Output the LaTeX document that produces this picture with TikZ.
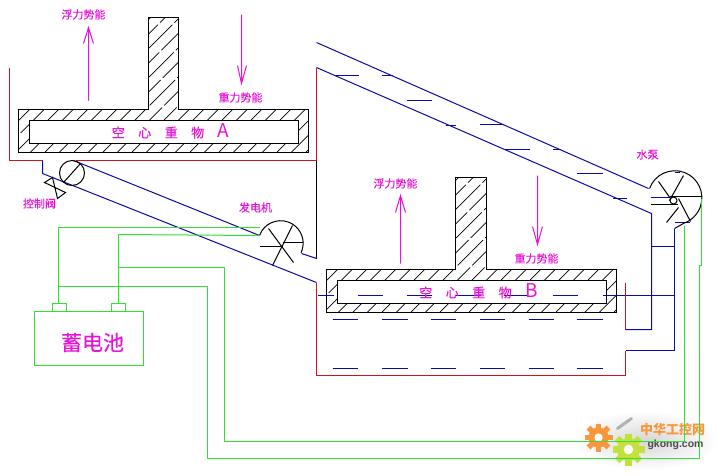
\documentclass[tikz,border=0pt]{standalone}
\usepackage{fontspec}
\newfontfamily\cjk[FakeBold=0.25]{Noto Sans CJK SC}
\newfontfamily\cjklogo{Noto Sans CJK SC}
\setsansfont{Liberation Sans}
\definecolor{pipeblue}{RGB}{10,10,170}
\definecolor{tankred}{RGB}{205,20,30}
\definecolor{wiregreen}{RGB}{50,225,50}
\definecolor{labelmag}{RGB}{230,20,215}
\definecolor{gearorange}{RGB}{250,150,60}
\definecolor{geargreen}{RGB}{195,225,60}
\tikzset{
  pipe/.style={draw=pipeblue,line width=1pt},
  tank/.style={draw=tankred,line width=1pt},
  wire/.style={draw=wiregreen,line width=1pt},
  body/.style={draw=black,line width=1pt},
  fine/.style={draw=black,line width=1pt},
  force/.style={draw=labelmag,line width=1pt},
  lab/.style={text=labelmag,font=\cjk\fontsize{11}{11}\selectfont,inner sep=0pt},
  hollow/.style={text=labelmag,font=\cjk\fontsize{13}{13}\selectfont,inner sep=0pt,anchor=base},
}
\newcommand{\hgap}{\hspace*{13.5pt}}
\newcommand{\bigletter}[1]{{\cjklogo\fontsize{19}{19}\selectfont #1}}
\newcommand{\weight}[7]{% x0 x1 y0 y1 stemL stemR top
  \begin{scope}[even odd rule]
    \clip (#1,#3) -- (#5,#3) -- (#5,#7) -- (#6,#7) -- (#6,#3) -- (#2,#3) -- (#2,#4) -- (#1,#4) -- cycle
      (#1+11,#3+11) rectangle (#2-10,#4-9);
    \foreach \k in {0,14.5,...,500}
      \draw[line width=.7pt,dash pattern=on 36pt off 3pt] (#1-40+\k,#4+8) -- (#1-40+\k+180,#4+8-180);
  \end{scope}
  \draw[body] (#1,#3) -- (#5,#3) -- (#5,#7) -- (#6,#7) -- (#6,#3) -- (#2,#3) -- (#2,#4) -- (#1,#4) -- cycle;
  \draw[body] (#1+11,#3+11) rectangle (#2-10,#4-9);
}
\newcommand{\geartooth}[4]{% x y r colour
  \fill[#4] (#1,#2) circle (#3*0.72);
  \foreach \a in {0,45,...,315}
    \fill[#4,rotate around={\a:(#1,#2)}] (#1-#3*0.2,#2-#3) rectangle (#1+#3*0.2,#2-#3*0.6);
  \fill[white] (#1,#2) circle (#3*0.3);
}
\begin{document}
\begin{tikzpicture}[x=1pt,y=-1pt,shift={(0.5,0.5)}]
\useasboundingbox (-0.5,-0.5) rectangle (718.5,474.5);
\fill[white] (-0.5,-0.5) rectangle (718.5,474.5);
% watermark logo
\shade[inner color=black!16,outer color=white] (645,440) ellipse (72 and 30);
\draw[black!30,line width=3pt,line cap=round] (617,428) -- (631,418);
\geartooth{598}{437}{14}{gearorange}
\geartooth{628}{449}{16}{geargreen}
\node[inner sep=0pt,text=gearorange,font=\cjklogo\bfseries\fontsize{13}{13}\selectfont] (logocn) at (672,429) {中华工控网};
\node[inner sep=0pt,text=black!70,font=\sffamily\bfseries\fontsize{10.5}{11}\selectfont] (logoen) at (675,444) {gkong.com};
% weights
\weight{18}{308}{109}{152}{148}{178}{17}
\weight{326}{616}{269}{312}{455}{486}{177}
% tank A
\draw[tank] (9,67) -- (9,160) -- (42,160);
\draw[tank] (75,160) -- (316,160) -- (316,67);
\draw[fine] (316,160) -- (316,258);
% tank B
\draw[tank] (316,282) -- (316,375) -- (625,375) -- (625,350);
\draw[tank] (625,282) -- (625,329);
% pipes
\draw[pipe] (42,160) -- (42,173) -- (316,282);
\draw[pipe] (73,160) -- (259,235);
\draw[pipe] (301,253) -- (316,258);
\draw[pipe] (316,42) -- (648,188);
\draw[pipe] (316,67) -- (651,213) -- (651,329) -- (625,329);
\draw[pipe] (674,228) -- (674,350) -- (625,350);
\draw[pipe] (651,246) -- (674,246);
\draw[pipe] (625,295) -- (674,295);
% water levels
\foreach \a/\b in {317/333,357/382,406/431,455/480,503/527,552/577,602/624}
  \draw[pipe] (\a,295) -- (\b,295);
\foreach \a/\b in {332/357,381/407,430/455,479/504,528/553,576/602}{
  \draw[pipe] (\a,319) -- (\b,319);
  \draw[pipe] (\a,368) -- (\b,368);
}
\foreach \a/\b/\y in {335/358/75,381/392/75,406/431/100,445/455/125,479/503/124,503/529/149,552/560/149,576/602/173,612/626/198,650/669/197,674/679/172,674/689/222}
  \draw[pipe] (\a,\y) -- (\b,\y);
% control valve
\draw[fine] (71.5,172.5) circle (12.5);
\draw[fine] (63,182) -- (80,163);
\draw[fine] (44,182) -- (52,177) -- (57,198) -- (65,192) -- cycle;
% generator
\draw[fine] (259,235) arc[start angle=-160,end angle=25,radius=22.5];
\draw[fine] (259,246) -- (282,246);
\draw[fine] (282,242) -- (302,242);
\draw[fine] (268,228) -- (293,262);
\draw[fine] (292,225) -- (272,265);
% pump
\draw[fine] (649,188) arc[start angle=-160,end angle=70,radius=27] -- (674,228);
\draw[fine] (669,196) -- (701,196);
\draw[fine] (650,204) -- (677,204);
\draw[fine] (658,181) -- (670,198);
\draw[fine] (683,175) -- (669,200);
\draw[fine] (678,198) -- (690,221);
\draw[fine] (678,207) -- (666,222);
\draw[fine] (673,200) circle (3.5);
% battery and wires
\draw[wire] (34,311) rectangle (143,365);
\draw[wire] (52,311) -- (52,303) -- (66,303) -- (66,311);
\draw[wire] (111,311) -- (111,303) -- (125,303) -- (125,311);
\draw[wire] (58,303) -- (58,227) -- (259,227);
\draw[wire] (118,303) -- (118,234) -- (259,235);
\draw[wire] (118,267) -- (224,267) -- (224,441) -- (684,441) -- (684,225);
\draw[wire] (58,286) -- (207,286) -- (207,458) -- (699,458) -- (699,265) -- (701,265) -- (701,198);
% force arrows
\draw[force] (88,100) -- (88,27) (83,43) -- (88,27) -- (93,43);
\draw[force] (241,14) -- (241,83) (237,65) -- (241,83) -- (246,65);
\draw[force] (400,263) -- (400,195) (395,212) -- (400,195) -- (405,212);
\draw[force] (537,175) -- (537,244) (532,226) -- (537,244) -- (542,226);
% labels
\node[lab] (fa) at (83,14) {浮力势能};
\node[lab] (ga) at (240,97) {重力势能};
\node[lab] (fb) at (395,183) {浮力势能};
\node[lab] (gb) at (536,258) {重力势能};
\node[lab] (valve) at (39,203) {控制阀};
\node[lab] (gen) at (255,207) {发电机};
\node[lab] (pumpl) at (647,154) {水泵};
\node[hollow] (wa) at (170,137) {空\hgap 心\hgap 重\hgap 物\hgap\bigletter{A}};
\node[hollow] (wb) at (478,297) {空\hgap 心\hgap 重\hgap 物\hgap\bigletter{B}};
\node[inner sep=0pt,text=labelmag,font=\cjk\fontsize{21}{21}\selectfont] (bat) at (92,342) {蓄电池};
\end{tikzpicture}
\end{document}
